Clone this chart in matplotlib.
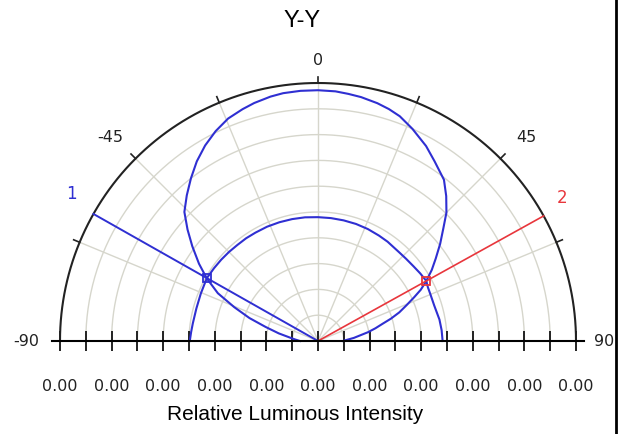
import numpy as np
import matplotlib.pyplot as plt
from matplotlib.lines import Line2D

plt.rcParams['font.family'] = ['Liberation Sans', 'DejaVu Sans']

# polar curves: angle in degrees (0 = straight up, negative = left), relative intensity
ang_a = [-90, -86, -83, -79, -75, -71.5, -68, -64.5, -60.6, -57, -53, -49.5, -46, -42, -38, -34,
         -30, -26, -22, -18, -15, -11, -8, -4, 0, 4, 7, 10, 14, 17, 20, 24, 29, 33, 38, 41.5,
         45, 48, 51.5, 55, 58, 61, 64, 67, 73, 80, 85, 90]
int_a = [0.07, 0.09, 0.11, 0.155, 0.21, 0.28, 0.35, 0.43, 0.495, 0.55, 0.61, 0.665, 0.72, 0.76, 0.80, 0.84,
         0.875, 0.905, 0.93, 0.945, 0.955, 0.965, 0.97, 0.972, 0.972, 0.97, 0.965, 0.96, 0.95, 0.94, 0.927,
         0.90, 0.864, 0.83, 0.793, 0.75, 0.704, 0.654, 0.605, 0.557, 0.52, 0.48, 0.474, 0.472, 0.471,
         0.478, 0.481, 0.483]

ang_b = [-90, -86, -82, -75, -68, -60.6, -55, -50, -45, -40, -35, -30, -24, -18, -12, -6, 0, 6, 12,
         18, 24, 30, 35, 42.5, 47, 52, 56.5, 61, 63.5, 65.5, 68, 70.6, 73, 75, 77.5, 80, 85, 90]
int_b = [0.497, 0.493, 0.49, 0.488, 0.49, 0.495, 0.492, 0.49, 0.488, 0.486, 0.486, 0.485, 0.485, 0.484,
         0.483, 0.482, 0.48, 0.479, 0.478, 0.477, 0.475, 0.472, 0.47, 0.466, 0.467, 0.47, 0.475, 0.48,
         0.445, 0.41, 0.37, 0.334, 0.295, 0.26, 0.228, 0.197, 0.14, 0.096]

# cursor lines 1 and 2 with their crossing values
cursor_names = ['1', '2']
cursor_ang = [-60.5, 61]
cursor_int = [0.495, 0.48]

grid_r = [0.1, 0.2, 0.3, 0.4, 0.5, 0.6, 0.7, 0.8, 0.9]
spoke_ang = [-67.5, -45, -22.5, 0, 22.5, 45, 67.5]
angle_labels = ['-45', '0', '45']
angle_label_pos = [-45.5, 0, 45.5]
r_ticks = np.round(np.arange(-1, 1.01, 0.2), 2)
r_minor = np.round(np.arange(-0.9, 0.91, 0.2), 2)
r_labels = ['0.00'] * len(r_ticks)


def to_xy(ang, r):
    t = np.radians(np.asarray(ang, dtype=float))
    r = np.asarray(r, dtype=float)
    return r * np.sin(t), r * np.cos(t)


W, H = 622, 435
fig = plt.figure(figsize=(W / 100, H / 100), dpi=100)
s = 258.0           # px per unit radius
cx, cy = 318.0, 93.0  # centre in px from lower left
x0, x1, y0, y1 = -1.2, 1.15, -0.35, 1.3
ax = fig.add_axes([(cx + x0 * s) / W, (cy + y0 * s) / H, (x1 - x0) * s / W, (y1 - y0) * s / H])
ax.set_xlim(x0, x1)
ax.set_ylim(y0, y1)

gc = '#d6d6cc'
th = np.linspace(-90, 90, 361)
for r in grid_r:
    gx, gy = to_xy(th, np.full_like(th, r))
    ax.plot(gx, gy, color=gc, lw=1.0, zorder=1)
for a in spoke_ang:
    sx, sy = to_xy([a, a], [0, 1])
    ax.plot(sx, sy, color=gc, lw=1.0, zorder=1)

# outer rim with its angle ticks
ox, oy = to_xy(th, np.ones_like(th))
ax.plot(ox, oy, color='#222222', lw=1.5, zorder=3)
for a in spoke_ang:
    tx, ty = to_xy([a, a], [1, 1.025])
    ax.plot(tx, ty, color='#222222', lw=1.2, zorder=3)

lab_kw = dict(ha='center', va='center', fontsize=11.5, color='#222222', family='DejaVu Sans')
for lab, a in zip(angle_labels, angle_label_pos):
    r = 1.09 if a == 0 else 1.13
    lx, ly = to_xy(a, r)
    ax.text(lx, ly, lab, **lab_kw)
ax.text(-1.13, 0, '-90', **lab_kw)
ax.text(1.11, 0, '90', **lab_kw)

blue = '#2f2fd2'
red = '#e8363c'
xa, ya = to_xy(ang_a, int_a)
ax.plot(xa, ya, color=blue, lw=1.5, zorder=4)
xb, yb = to_xy(ang_b, int_b)
ax.plot(xb, yb, color=blue, lw=1.5, zorder=4)

for name, a, v, c, rr in zip(cursor_names, cursor_ang, cursor_int, [blue, red], [1.115, 1.10]):
    lx, ly = to_xy([0, a], [0, 1])
    ax.plot(lx, ly, color=c, lw=1.4 if c == blue else 1.2, zorder=5)
    mx, my = to_xy(a, v)
    ax.plot(mx, my, 's', ms=6, mfc='none', mec=c, mew=1.3, zorder=6)
    nx, ny = to_xy(a - np.sign(a) * 1.5, rr)
    ax.text(nx, ny, name, ha='center', va='center', fontsize=12, color=c, family='DejaVu Sans')

# radial axis along the base line
for side in ['left', 'right', 'top']:
    ax.spines[side].set_visible(False)
ax.spines['bottom'].set_position(('data', 0))
ax.spines['bottom'].set_bounds(-1.03, 1.03)
ax.spines['bottom'].set_linewidth(1.5)
ax.spines['bottom'].set_zorder(7)
ax.set_yticks([])
ax.set_xticks(r_ticks)
ax.set_xticklabels(r_labels, family='DejaVu Sans', fontsize=11.5, color='#222222')
ax.set_xticks(r_minor, minor=True)
ax.tick_params(axis='x', which='both', direction='inout', length=14, width=1.4, color='#222222')
ax.tick_params(axis='x', which='major', pad=20)
ax.set_xlabel('Relative Luminous Intensity', fontsize=15, labelpad=7.5)
ax.xaxis.label.set_x((295 - (cx + x0 * s)) / ((x1 - x0) * s))

fig.text(302 / W, 1 - 21 / H, 'Y-Y', ha='center', va='center', fontsize=17)
fig.add_artist(Line2D([616 / W, 616 / W], [0, 1], transform=fig.transFigure, color='black', lw=2))

fig.savefig('out.png', dpi=100)
